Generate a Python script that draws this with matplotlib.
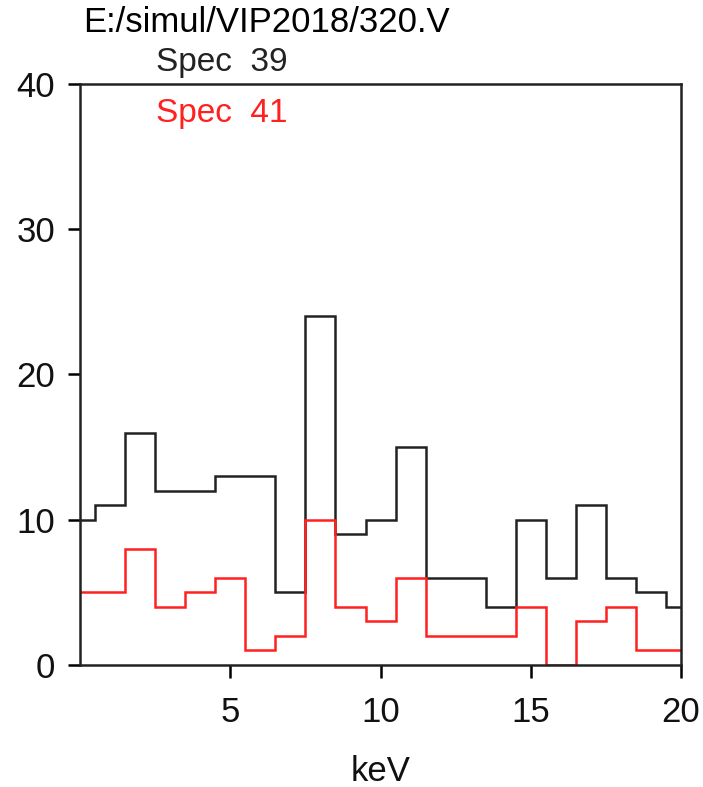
import numpy as np
import matplotlib
matplotlib.use("Agg")
import matplotlib.pyplot as plt

plt.rcParams['font.family'] = ['Liberation Sans', 'DejaVu Sans']

# channel counts, one bin per keV centred on the integer
channels = np.arange(0, 21)
spec39 = [10, 11, 16, 12, 12, 13, 13, 5, 24, 9, 10, 15, 6, 6, 4, 10, 6, 11, 6, 5, 4]
spec41 = [5, 5, 8, 4, 5, 6, 1, 2, 10, 4, 3, 6, 2, 2, 2, 4, 0, 3, 4, 1, 1]
xticks = [5, 10, 15, 20]
yticks = [0, 10, 20, 30, 40]

edges = np.append(channels - 0.5, channels[-1] + 0.5)

fig = plt.figure(figsize=(7.03, 7.87), dpi=100)
ax = fig.add_axes([0.1138, 0.155, 0.855, 0.7383])

ax.stairs(spec39, edges, baseline=None, color='#222222', lw=1.8)
ax.stairs(spec41, edges, baseline=None, color='#ff2020', lw=1.8)

ax.set_xlim(0, 20)
ax.set_ylim(0, 40)
ax.set_xticks(xticks)
ax.set_yticks(yticks)
ax.tick_params(direction='out', length=9, width=1.8, labelsize=25, labelcolor='#111111')
ax.tick_params(axis='x', pad=13)
ax.tick_params(axis='y', pad=9)
for s in ax.spines.values():
    s.set_linewidth(1.8)
    s.set_color('#222222')

ax.set_xlabel('keV', fontsize=25, color='#111111', labelpad=19)

fig.text(0.118, 0.972, 'E:/simul/VIP2018/320.V', fontsize=25, ha='left', va='center')
fig.text(0.222, 0.921, 'Spec  39', fontsize=24, ha='left', va='center', color='#222222')
fig.text(0.222, 0.856, 'Spec  41', fontsize=24, ha='left', va='center', color='#ff2020')

fig.savefig('out.png', dpi=100)
